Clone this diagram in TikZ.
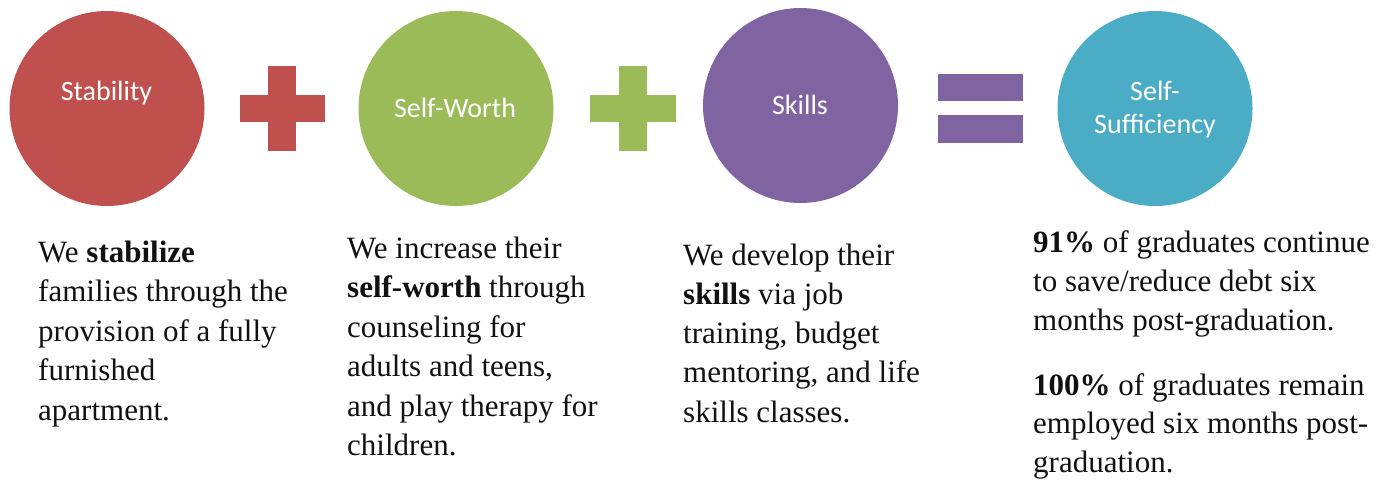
\documentclass[tikz,border=0pt]{standalone}
\usepackage{fontspec}
\setmainfont{Liberation Serif}
\newfontfamily\circfont{Carlito}
\definecolor{cred}{HTML}{C0504D}
\definecolor{cgreen}{HTML}{9BBB59}
\definecolor{cpurple}{HTML}{8064A2}
\definecolor{cteal}{HTML}{4BACC6}
\definecolor{txt}{HTML}{111111}
\tikzset{
  ball/.style={circle, minimum size=195pt, inner sep=0pt},
  balllabel/.style={anchor=base, inner sep=0pt, text=white, font=\circfont\fontsize{28}{33}\selectfont},
  body/.style={anchor=base west, inner sep=0pt, text=txt, font=\fontsize{31}{39.5}\selectfont},
}
\begin{document}
\begin{tikzpicture}[x=1pt,y=-1pt]
\useasboundingbox (0,0) rectangle (1391,479);
% circles
\node[ball, fill=cred]    (stab) at (107,108.5) {};
\node[ball, fill=cgreen]  (worth) at (456,108.5) {};
\node[ball, fill=cpurple] (skill) at (800.5,105.5) {};
\node[ball, fill=cteal]   (suff) at (1155,108.5) {};
% circle labels
\node[balllabel] (stabl) at (106.5,100) {Stability};
\node[balllabel] (worthl) at (455,117) {Self-Worth};
\node[balllabel] (skilll) at (800,114) {Skills};
\node[balllabel] (suffl1) at (1155,100) {Self-};
\node[balllabel] (suffl2) at (1155,133) {Sufficiency};
% plus signs
\fill[cred] (268,66) rectangle (296,151);
\fill[cred] (240,95) rectangle (325,122);
\fill[cgreen] (619,66) rectangle (647,151);
\fill[cgreen] (590,95) rectangle (676,122);
% equals sign
\fill[cpurple] (938,74) rectangle (1023,101);
\fill[cpurple] (938,115) rectangle (1023,143);
% texts
\node[body] (t1) at (38,262) {\vtop{\baselineskip=39.5pt
  \hbox{We \textbf{stabilize}}
  \hbox{families through the}
  \hbox{provision of a fully}
  \hbox{furnished}
  \hbox{apartment.}}};
\node[body] (t2) at (347,258) {\vtop{\baselineskip=39.5pt
  \hbox{We increase their}
  \hbox{\textbf{self-worth} through}
  \hbox{counseling for}
  \hbox{adults and teens,}
  \hbox{and play therapy for}
  \hbox{children.}}};
\node[body] (t3) at (683,265) {\vtop{\baselineskip=39.3pt
  \hbox{We develop their}
  \hbox{\textbf{skills} via job}
  \hbox{training, budget}
  \hbox{mentoring, and life}
  \hbox{skills classes.}}};
\node[body] (t4) at (1033,252) {\vtop{\baselineskip=39pt
  \hbox{\textbf{91\%} of graduates continue}
  \hbox{to save/reduce debt six}
  \hbox{months post-graduation.}}};
\node[body] (t5) at (1033,395) {\vtop{\baselineskip=38.8pt
  \hbox{\textbf{100\%} of graduates remain}
  \hbox{employed six months post-}
  \hbox{graduation.}}};
\end{tikzpicture}
\end{document}
